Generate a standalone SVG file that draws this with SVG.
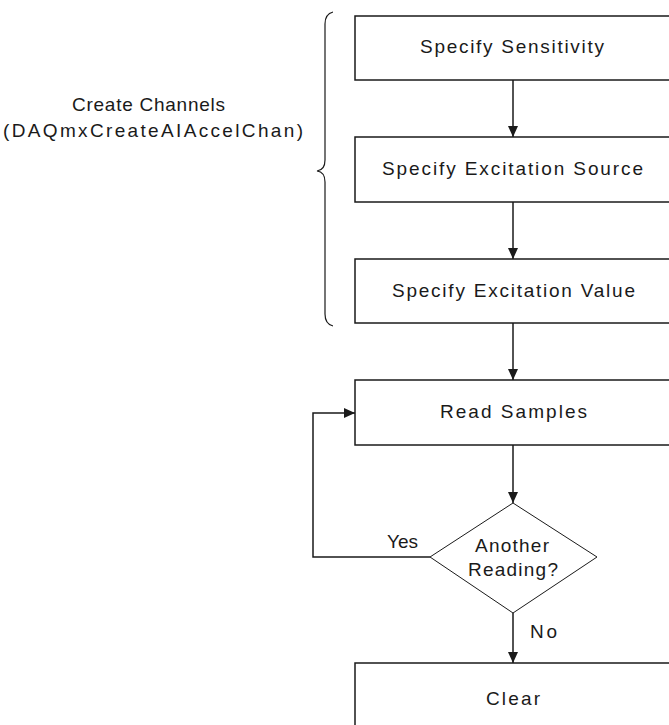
<svg xmlns="http://www.w3.org/2000/svg" width="669" height="725" viewBox="0 0 669 725">
<style>
.box{fill:#fff;stroke:#1a1a1a;stroke-width:1.5}
.dia{fill:#fff;stroke:#1a1a1a;stroke-width:1}
.t{font-family:"Liberation Sans",Arial,sans-serif;font-size:19px;fill:#1a1a1a}
.ln{fill:none;stroke:#1a1a1a;stroke-width:1.5}
</style>
<defs>
<marker id="ah" markerWidth="12" markerHeight="12" refX="11" refY="5.5" orient="auto" markerUnits="userSpaceOnUse">
<path d="M0,0.5 L11,5.5 L0,10.5 Z" fill="#1a1a1a"/>
</marker>
</defs>
<rect width="669" height="725" fill="#fff"/>
<g id="label-create">
<text class="t" x="72" y="111" textLength="153" lengthAdjust="spacing">Create Channels</text>
<text class="t" x="3" y="137" textLength="300" lengthAdjust="spacing">(DAQmxCreateAIAccelChan)</text>
<path class="ln" style="stroke-width:1.2" d="M333,12 Q325,14 325,24 L325,160 Q325,170 317,171 Q325,172 325,182 L325,314 Q325,324 333,326"/>
</g>
<g id="connectors">
<line class="ln" x1="513" y1="80" x2="513" y2="137" marker-end="url(#ah)"/>
<line class="ln" x1="513" y1="202" x2="513" y2="259" marker-end="url(#ah)"/>
<line class="ln" x1="513" y1="323" x2="513" y2="380" marker-end="url(#ah)"/>
<line class="ln" x1="513" y1="445" x2="513" y2="503" marker-end="url(#ah)"/>
<line class="ln" x1="513" y1="613" x2="513" y2="663" marker-end="url(#ah)"/>
<polyline class="ln" points="430,557 313,557 313,413 355,413" marker-end="url(#ah)"/>
<text class="t" x="387" y="548" textLength="31" lengthAdjust="spacing">Yes</text>
<text class="t" x="530" y="638" textLength="27" lengthAdjust="spacing">No</text>
</g>
<g id="n-sensitivity">
<rect class="box" x="355" y="16" width="320" height="64"/>
<text class="t" x="420" y="53" textLength="184" lengthAdjust="spacing">Specify Sensitivity</text>
</g>
<g id="n-source">
<rect class="box" x="355" y="137" width="320" height="65"/>
<text class="t" x="382" y="175" textLength="261" lengthAdjust="spacing">Specify Excitation Source</text>
</g>
<g id="n-value">
<rect class="box" x="355" y="259" width="320" height="64"/>
<text class="t" x="392" y="297" textLength="243" lengthAdjust="spacing">Specify Excitation Value</text>
</g>
<g id="n-read">
<rect class="box" x="355" y="380" width="320" height="65"/>
<text class="t" x="440" y="418" textLength="147" lengthAdjust="spacing">Read Samples</text>
</g>
<g id="n-decision">
<polygon class="dia" points="513,503 597,557 513,613 430,557"/>
<text class="t" x="475" y="552" textLength="74" lengthAdjust="spacing">Another</text>
<text class="t" x="468" y="576" textLength="90" lengthAdjust="spacing">Reading?</text>
</g>
<g id="n-clear">
<rect class="box" x="355" y="663" width="320" height="70"/>
<text class="t" x="486" y="705" textLength="54" lengthAdjust="spacing">Clear</text>
</g>
</svg>
